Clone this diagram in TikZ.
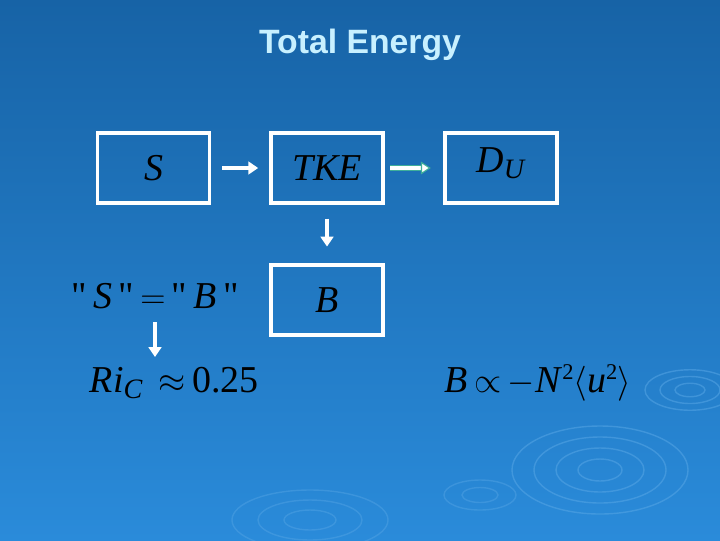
\documentclass[tikz,border=0pt]{standalone}
\usepackage{amsmath}
\usepackage{fontspec}
\setsansfont{Liberation Sans}
\setmainfont{Liberation Serif}
\newfontfamily\qf{Liberation Serif}[Ligatures=ResetAll]
\usetikzlibrary{arrows.meta}
\definecolor{bgtop}{HTML}{1763A6}
\definecolor{bgbot}{HTML}{2A8BDA}
\definecolor{ttl}{HTML}{C8F0FF}
\definecolor{rip}{HTML}{5AA8E6}
\definecolor{dbledge}{HTML}{3FAF9A}
\newcommand{\iv}[1]{\textit{#1}}
\newcommand{\qq}{{\qf\upshape\symbol{34}}}
\tikzset{x=0.025cm,y=-0.025cm,
 box/.style={draw=white,line width=2.2pt,minimum width=2.8cm,minimum height=1.75cm,inner sep=0pt},
 math/.style={font=\fontsize{27}{32}\selectfont,text=black},
 arr/.style={draw=white,line width=2.5pt,-{Triangle[length=7pt,width=9pt]}},
 dbl/.style={double=white,double distance=2.5pt,draw=dbledge,line width=0.8pt,-{Triangle[open,length=7pt,width=9pt,fill=white]}}}
\begin{document}
\begin{tikzpicture}
\shade[top color=bgtop,bottom color=bgbot] (0,0) rectangle (720,540);
\useasboundingbox (0,0) rectangle (720,540);
\foreach \r in {20,40,60,80}{\draw[rip,line width=1pt,opacity=.5] (600,470) ellipse ({\r*1.1} and {\r*0.55});}
\foreach \r in {15,30,45}{\draw[rip,line width=1pt,opacity=.5] (690,390) ellipse ({\r} and {\r*0.45});}
\foreach \r in {20,40,60}{\draw[rip,line width=1pt,opacity=.4] (310,520) ellipse ({\r*1.3} and {\r*0.5});}
\foreach \r in {15,30}{\draw[rip,line width=1pt,opacity=.4] (480,495) ellipse ({\r*1.2} and {\r*0.5});}
\node[font=\sffamily\bfseries\fontsize{24}{28}\selectfont,text=ttl] (title) at (360,45) {Total Energy};
\node[box] (s) at (153.5,168) {};
\node[math] at (s) {\iv{S}};
\node[box] (tke) at (327,168) {};
\node[math] at (tke) {\iv{TKE}};
\node[box] (du) at (501,168) {};
\node[math] at (501,163) {\iv{D}\raisebox{-0.35ex}{\fontsize{20}{22}\selectfont\iv{U}}};
\node[box] (b) at (327,300) {};
\node[math] at (b) {\iv{B}};
\draw[arr] ([xshift=8pt]s.east) -- ([xshift=-8pt]tke.west);
\draw[dbl] ([xshift=4pt]tke.east) -- ([xshift=-9pt]du.west);
\draw[arr] ([yshift=-10pt]tke.south) -- ([yshift=12pt]b.north);
\node[math] (eq) at (155,296) {\qq\,\iv{S}\,\qq\,$=$\,\qq\,\iv{B}\,\qq};
\node[math,anchor=west] (ri) at (85,383) {\iv{Ri}\raisebox{-0.35ex}{\fontsize{20}{22}\selectfont\iv{C}}\ \,$\approx$\,0.25};
\draw[arr] (155,322) -- (155,357);
\node[math] (bp) at (538,383) {\iv{B}\,$\propto$\,$-$\iv{N}\raisebox{0.7ex}{\fontsize{16}{18}\selectfont 2}$\left\langle \text{\iv{u}\raisebox{0.7ex}{\fontsize{16}{18}\selectfont 2}}\right\rangle$};
\end{tikzpicture}
\end{document}
